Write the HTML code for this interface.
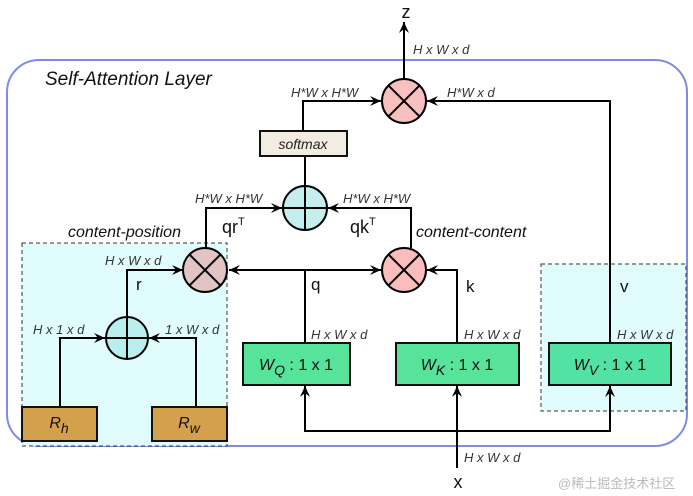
<!DOCTYPE html>
<html><head><meta charset="utf-8"><style>
html,body{margin:0;padding:0;background:#fff;}
svg{display:block;font-family:"Liberation Sans",sans-serif;}
.l{fill:#333;font-style:italic;font-size:13px;}
</style></head><body>
<svg width="693" height="496" viewBox="0 0 693 496" xmlns="http://www.w3.org/2000/svg">
<defs>
<marker id="a" markerWidth="12" markerHeight="10" refX="11" refY="5" orient="auto" markerUnits="userSpaceOnUse">
<path d="M0,0 L11,5 L0,10 L4,5 Z" fill="#000"/>
</marker>
</defs>
<rect x="7" y="60" width="680" height="386" rx="32" fill="none" stroke="#7f8ce6" stroke-width="2"/>
<rect x="22" y="243" width="205" height="203" fill="#e0fcfc" stroke="#333" stroke-dasharray="4,3"/>
<rect x="541" y="264" width="145" height="147" fill="#e0fcfc" stroke="#333" stroke-dasharray="4,3"/>
<text x="45" y="85" font-size="19" font-style="italic" fill="#111">Self-Attention Layer</text>

<g stroke="#000" stroke-width="2" fill="none">
<line x1="404" y1="79" x2="404" y2="22" marker-end="url(#a)"/>
<polyline points="610,343 610,101 427,101" marker-end="url(#a)"/>
<polyline points="303,131 303,101 381,101" marker-end="url(#a)"/>
<line x1="305" y1="156" x2="305" y2="186"/>
<polyline points="206,248 206,208 282,208" marker-end="url(#a)"/>
<polyline points="411,248 411,208 328,208" marker-end="url(#a)"/>
<line x1="305" y1="343" x2="305" y2="270"/>
<line x1="305" y1="270" x2="229" y2="270" marker-end="url(#a)"/>
<line x1="305" y1="270" x2="381" y2="270" marker-end="url(#a)"/>
<polyline points="457,343 457,270 427,270" marker-end="url(#a)"/>
<polyline points="127,317 127,270 183,270" marker-end="url(#a)"/>
<polyline points="60,407 60,338 105,338" marker-end="url(#a)"/>
<polyline points="196,407 196,338 149,338" marker-end="url(#a)"/>
<line x1="457" y1="468" x2="457" y2="386" marker-end="url(#a)"/>
<polyline points="457,431 305,431 305,386" marker-end="url(#a)"/>
<polyline points="457,431 610,431 610,386" marker-end="url(#a)"/>
</g>

<g stroke="#000" stroke-width="2">
<circle cx="404" cy="101" r="22" fill="#f9c0c0"/>
<line x1="388.4" y1="85.4" x2="419.6" y2="116.6"/><line x1="419.6" y1="85.4" x2="388.4" y2="116.6"/>
<circle cx="305" cy="208" r="22" fill="#c5eeee"/>
<line x1="283" y1="208" x2="327" y2="208"/><line x1="305" y1="186" x2="305" y2="230"/>
<circle cx="205" cy="270" r="22" fill="#e3c4c4"/>
<line x1="189.4" y1="254.4" x2="220.6" y2="285.6"/><line x1="220.6" y1="254.4" x2="189.4" y2="285.6"/>
<circle cx="404" cy="270" r="22" fill="#fbbcbc"/>
<line x1="388.4" y1="254.4" x2="419.6" y2="285.6"/><line x1="419.6" y1="254.4" x2="388.4" y2="285.6"/>
<circle cx="127" cy="338" r="21" fill="#b8eeee"/>
<line x1="106" y1="338" x2="148" y2="338"/><line x1="127" y1="317" x2="127" y2="359"/>
</g>

<g stroke="#111" stroke-width="2">
<rect x="260" y="131" width="87" height="25" fill="#f3ece0"/>
<rect x="243" y="343" width="107" height="42" fill="#57e39a"/>
<rect x="396" y="343" width="123" height="42" fill="#57e39a"/>
<rect x="549" y="343" width="122" height="42" fill="#52e2a3"/>
<rect x="22" y="407" width="75" height="34" fill="#d4a04b"/>
<rect x="152" y="407" width="75" height="34" fill="#d4a04b"/>
</g>
<text x="303" y="149" text-anchor="middle" font-size="14" font-style="italic" fill="#222">softmax</text>
<text x="296" y="370" text-anchor="middle" font-size="16" fill="#111"><tspan font-style="italic">W</tspan><tspan font-style="italic" font-size="14" dy="5">Q</tspan><tspan dy="-5"> : 1 x 1</tspan></text>
<text x="457" y="370" text-anchor="middle" font-size="16" fill="#111"><tspan font-style="italic">W</tspan><tspan font-style="italic" font-size="14" dy="5">K</tspan><tspan dy="-5"> : 1 x 1</tspan></text>
<text x="610" y="370" text-anchor="middle" font-size="16" fill="#111"><tspan font-style="italic">W</tspan><tspan font-style="italic" font-size="14" dy="5">V</tspan><tspan dy="-5"> : 1 x 1</tspan></text>
<text x="59" y="428" text-anchor="middle" font-size="16" font-style="italic" fill="#111">R<tspan font-size="14" dy="5">h</tspan></text>
<text x="189" y="428" text-anchor="middle" font-size="16" font-style="italic" fill="#111">R<tspan font-size="14" dy="5">w</tspan></text>

<text x="406" y="18" text-anchor="middle" font-size="18" fill="#111">z</text>
<text x="458" y="488" text-anchor="middle" font-size="18" fill="#111">x</text>
<text class="l" x="413" y="54">H x W x d</text>
<text class="l" x="447" y="97">H*W x d</text>
<text class="l" x="291" y="97">H*W x H*W</text>
<text class="l" x="195" y="203">H*W x H*W</text>
<text class="l" x="343" y="203">H*W x H*W</text>
<text x="222" y="233" font-size="18" fill="#111">qr<tspan font-size="11" dy="-8">T</tspan></text>
<text x="350" y="233" font-size="18" fill="#111">qk<tspan font-size="11" dy="-8">T</tspan></text>
<text x="68" y="237" font-size="16" font-style="italic" fill="#111">content-position</text>
<text x="416" y="237" font-size="16" font-style="italic" fill="#111">content-content</text>
<text class="l" x="105" y="265">H x W x d</text>
<text x="136" y="290" font-size="17" fill="#111">r</text>
<text x="311" y="290" font-size="17" fill="#111">q</text>
<text x="466" y="292" font-size="17" fill="#111">k</text>
<text x="620" y="292" font-size="17" fill="#111">v</text>
<text class="l" x="33" y="334">H x 1 x d</text>
<text class="l" x="165" y="334">1 x W x d</text>
<text class="l" x="311" y="339">H x W x d</text>
<text class="l" x="464" y="339">H x W x d</text>
<text class="l" x="617" y="339">H x W x d</text>
<text class="l" x="464" y="462">H x W x d</text>
<text x="558" y="488" font-size="13" fill="#bbb" font-family="'Liberation Sans','Noto Sans CJK SC',sans-serif">@稀土掘金技术社区</text>
</svg>
</body></html>
